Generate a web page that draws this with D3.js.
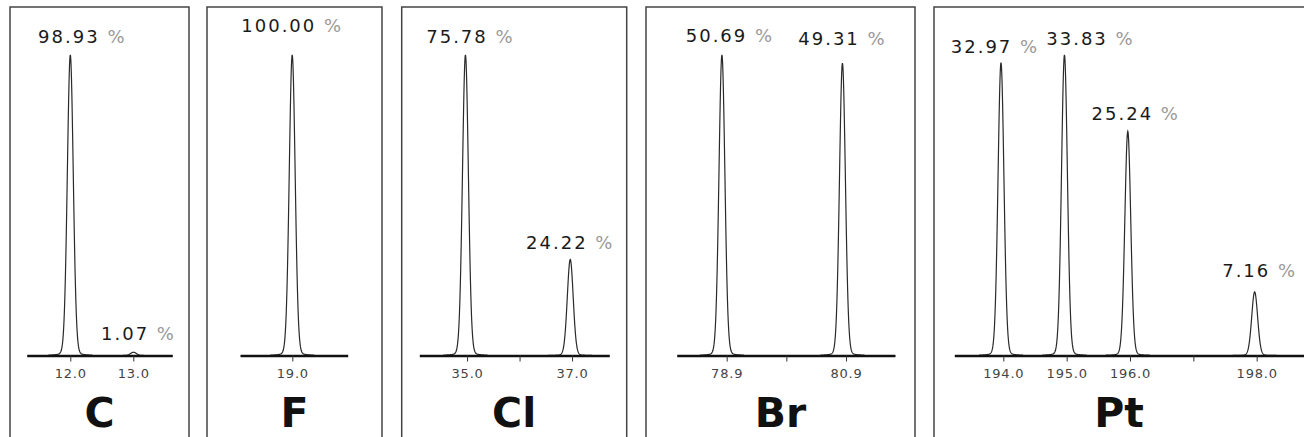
<!DOCTYPE html>
<html><head><meta charset="utf-8">
<script src="https://cdn.jsdelivr.net/npm/d3@7"></script>
<style>html,body{margin:0;padding:0;background:#fff;} svg{display:block}</style>
</head><body><svg id="chart" width="1304" height="437"></svg>
<script>
// ---------------- DATA ----------------
const elements = ["C", "F", "Cl", "Br", "Pt"];

const massC  = [12.000, 13.003];
const abundC = [98.93, 1.07];
const massF  = [18.998];
const abundF = [100.00];
const massCl  = [34.969, 36.966];
const abundCl = [75.78, 24.22];
const massBr  = [78.82, 80.84];
const abundBr = [50.69, 49.31];
const massPt  = [193.963, 194.965, 195.965, 197.968];
const abundPt = [32.97, 33.83, 25.24, 7.16];

const ticksC  = [12, 13],            tickLabelsC  = ["12.0", "13.0"];
const ticksF  = [19],                tickLabelsF  = ["19.0"];
const ticksCl = [35, 36, 37],        tickLabelsCl = ["35.0", "", "37.0"];
const ticksBr = [78.9, 79.9, 80.9],  tickLabelsBr = ["78.9", "", "80.9"];
const ticksPt = [194, 195, 196, 197, 198], tickLabelsPt = ["194.0", "195.0", "196.0", "", "198.0"];

const domainC  = [11.308, 13.619];
const domainF  = [18.128, 19.923];
const domainCl = [34.09, 37.71];
const domainBr = [78.062, 81.721];
const domainPt = [193.226, 198.747];

// ---------------- LAYOUT / STYLE ----------------
const layout = [
  {x0: 10,    x1: 189,  a0: 26.7,  a1: 172.3},
  {x0: 207,   x1: 382,  a0: 240,   a1: 347.7},
  {x0: 401.7, x1: 626.7,a0: 419.3, a1: 609.3},
  {x0: 646,   x1: 915,  a0: 676.7, a1: 895},
  {x0: 934,   x1: 1310, a0: 954.3, a1: 1304}
];
// [dx from peak centre, gap above peak tip] for each peak label
const labelNudge = [
  [[12, 12], [5, 12]],
  [[0, 23]],
  [[5, 12], [0, 10]],
  [[8, 13], [0, 18]],
  [[-6, 10], [26, 10], [8, 11], [5, 15]]
];
const topY = 7, baseY = 355.5, peakTopY = 55, elemY = 427;

const panels = [
  {mass: massC,  ab: abundC,  ticks: ticksC,  tl: tickLabelsC,  dom: domainC},
  {mass: massF,  ab: abundF,  ticks: ticksF,  tl: tickLabelsF,  dom: domainF},
  {mass: massCl, ab: abundCl, ticks: ticksCl, tl: tickLabelsCl, dom: domainCl},
  {mass: massBr, ab: abundBr, ticks: ticksBr, tl: tickLabelsBr, dom: domainBr},
  {mass: massPt, ab: abundPt, ticks: ticksPt, tl: tickLabelsPt, dom: domainPt}
];

const svg = d3.select("#chart");
const sigma = 3.0, gamma = 3.0;
const shape = d => 0.93 * Math.exp(-d * d / (2 * sigma * sigma)) + 0.07 / (1 + (d / gamma) * (d / gamma));
const offsets = d3.range(-22, 22.001, 0.25);

panels.forEach((p, i) => {
  const L = layout[i];
  const g = svg.append("g");
  // panel frame (open at bottom)
  g.append("path")
    .attr("d", `M${L.x0},${440} V${topY} H${L.x1} V${440}`)
    .attr("fill", "none").attr("stroke", "#444").attr("stroke-width", 1.5);

  const x = d3.scaleLinear().domain(p.dom).range([L.a0, L.a1]);
  const y = d3.scaleLinear().domain([0, d3.max(p.ab)]).range([baseY, peakTopY]);

  const line = d3.line().x(d => d[0]).y(d => d[1]);
  p.mass.forEach((m, k) => {
    const v = p.ab[k];
    const pts = offsets.map(o => [x(m) + o, y(v * shape(o))]);
    g.append("path").attr("d", line(pts))
      .attr("fill", "none").attr("stroke", "#2a2a2a").attr("stroke-width", 1.2);
  });

  // axis
  const ax = d3.axisBottom(x).tickValues(p.ticks)
    .tickFormat((d, j) => p.tl[j]).tickSizeInner(6).tickSizeOuter(0).tickPadding(7);
  const axg = g.append("g").attr("transform", `translate(0,${baseY})`).call(ax);
  axg.select(".domain").attr("stroke", "#111").attr("stroke-width", 2.6);
  axg.selectAll(".tick line").attr("stroke", "#333").attr("stroke-width", 1);
  axg.selectAll(".tick text").attr("fill", "#444")
    .style("font-family", "'DejaVu Sans', Verdana, sans-serif")
    .style("font-size", "13px").style("letter-spacing", "0.8px");

  // peak labels
  p.mass.forEach((m, k) => {
    const v = p.ab[k];
    const nd = labelNudge[i][k];
    const t = g.append("text")
      .attr("x", x(m) + nd[0]).attr("y", y(v) - nd[1])
      .attr("text-anchor", "middle")
      .style("font-family", "'DejaVu Sans', Verdana, sans-serif")
      .style("font-size", "18px").style("letter-spacing", "2px");
    t.append("tspan").attr("fill", "#1a1a1a").text(v.toFixed(2) + " ");
    t.append("tspan").attr("fill", "#999").text("%");
  });

  // element label
  g.append("text")
    .attr("x", (L.x0 + Math.min(L.x1, 1304)) / 2).attr("y", elemY)
    .attr("text-anchor", "middle").attr("fill", "#111")
    .style("font-family", "'DejaVu Sans', Verdana, sans-serif")
    .style("font-weight", "bold").style("font-size", "41px")
    .text(elements[i]);
});
</script>
</body></html>
